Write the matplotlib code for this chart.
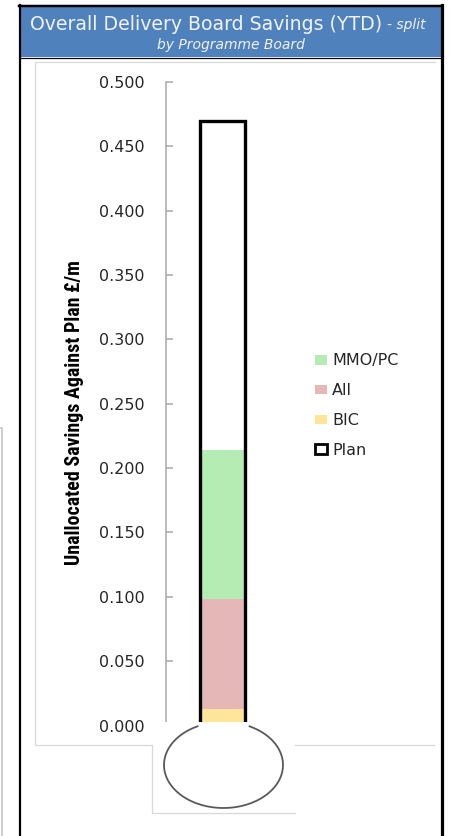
import numpy as np
import matplotlib
matplotlib.use("Agg")
import matplotlib.pyplot as plt
from matplotlib import font_manager
from matplotlib.patches import Rectangle, Patch

W, H = 454, 836

boards = ["BIC", "All", "MMO/PC"]
savings = [0.013, 0.085, 0.116]          # stacked bottom -> top, £m
board_colours = ["#fee599", "#e5b8b7", "#b4ecb4"]
plan = 0.470
yticks = [0.0, 0.05, 0.10, 0.15, 0.20, 0.25, 0.30, 0.35, 0.40, 0.45, 0.50]

GREY = "#a6a6a6"
TEXT = "#262626"


def px(v):
    """Pixels to points at 100 dpi."""
    return v * 0.72


# a narrow bold face for the axis title, if one is installed
names = {f.name for f in font_manager.fontManager.ttflist}
narrow = [n for n in ("Liberation Sans Narrow", "DejaVu Sans Condensed",
                      "Roboto Condensed", "Open Sans Condensed", "Noto Sans Condensed")
          if n in names]

fig = plt.figure(figsize=(W / 100, H / 100), dpi=100)

# thermometer tube: the data axes, 0 at y=725.5 px and 0.5 at y=82 px
ax = fig.add_axes([166 / W, 1 - 725.5 / H, 113 / W, (725.5 - 82) / H])
ax.set_xlim(0, 1)
ax.set_ylim(0, 0.5)

bottom = 0.0
handles = {}
for name, val, col in zip(boards, savings, board_colours):
    ax.bar(0.5, val, width=0.407, bottom=bottom, color=col, lw=0, zorder=2)
    handles[name] = Patch(facecolor=col, edgecolor="none")
    bottom += val
ax.bar(0.5, plan, width=0.407, facecolor="none", edgecolor="black",
       lw=2.4, zorder=3)
handles["Plan"] = Patch(facecolor="white", edgecolor="black", lw=2.0)

for s in ("top", "right", "bottom"):
    ax.spines[s].set_visible(False)
ax.spines["left"].set_color(GREY)
ax.spines["left"].set_linewidth(px(1.5))
ax.set_xticks([])
ax.set_yticks(yticks)
ax.set_yticklabels([f"{t:.3f}" for t in yticks])
ax.tick_params(axis="y", direction="in", length=5, width=px(1.5), color=GREY,
               labelcolor=TEXT, labelsize=11.5, pad=px(21))
ax.patch.set_alpha(0)

order = ["MMO/PC", "All", "BIC", "Plan"]
leg = ax.legend([handles[k] for k in order], order, loc="upper left",
                bbox_to_anchor=(315 / W, 1 - 353.5 / H), bbox_transform=fig.transFigure,
                frameon=False, fontsize=11.5, borderpad=0, borderaxespad=0,
                handlelength=0.77, handleheight=0.53, handletextpad=0.3,
                labelspacing=0.92)
for t in leg.get_texts():
    t.set_color(TEXT)

ylab = fig.text(75 / W, 1 - 413 / H, "Unallocated Savings Against Plan £/m",
                rotation=90, ha="center", va="center", fontsize=14.3,
                fontweight="bold", family=narrow + ["DejaVu Sans"], color="black")
if not narrow:
    ylab.set_fontsize(10.4)

# frame, title band, chart-area border and bulb, in pixel coordinates
ov = fig.add_axes([0, 0, 1, 1], zorder=5)
ov.set_xlim(0, W)
ov.set_ylim(H, 0)
ov.set_axis_off()
ov.patch.set_alpha(0)

ov.plot([0, 2, 2], [428, 428, H], color="#bfbfbf", lw=px(1.5))

ov.add_patch(Rectangle((20, 7), 421, 50, facecolor="#4f81bd", edgecolor="none"))
ov.plot([19, 442], [6, 6], color="black", lw=px(2.5))
ov.plot([19, 442], [57.5, 57.5], color="black", lw=px(1.2))
ov.plot([19.5, 19.5], [5, H], color="black", lw=px(2.2))
ov.plot([441.5, 441.5], [5, H], color="black", lw=px(3.2))

title = ov.text(30, 24, "Overall Delivery Board Savings (YTD)", ha="left",
                va="center", fontsize=13.6, color="#f2f2f2")
r = fig.canvas.get_renderer()
x_end = title.get_window_extent(renderer=r).x1
ov.text(x_end + 5, 25, "- split", ha="left", va="center", fontsize=10,
        style="italic", color="#f2f2f2")
ov.text(231, 45.5, "by Programme Board", ha="center", va="center", fontsize=10,
        style="italic", color="#f2f2f2")

# bulb panel hides the foot of the tube and the axis
ov.add_patch(Rectangle((153, 722), 142, 91, facecolor="white", edgecolor="none"))

BORDER = "#d9d9d9"
ov.plot([435, 35, 35, 152, 152, 295], [62, 62, 745, 745, 813, 813],
        color=BORDER, lw=px(1.3))
ov.plot([295, 434], [745, 745], color=BORDER, lw=px(1.3))

cx, cy, rx, ry = 223.5, 765, 59.5, 43
gap = np.degrees(np.arcsin(26 / rx))
t = np.radians(np.linspace(-90 + gap, 270 - gap, 400))
ov.plot(cx + rx * np.cos(t), cy + ry * np.sin(t), color="#595959", lw=px(1.8))

fig.savefig("out.png", dpi=100)
